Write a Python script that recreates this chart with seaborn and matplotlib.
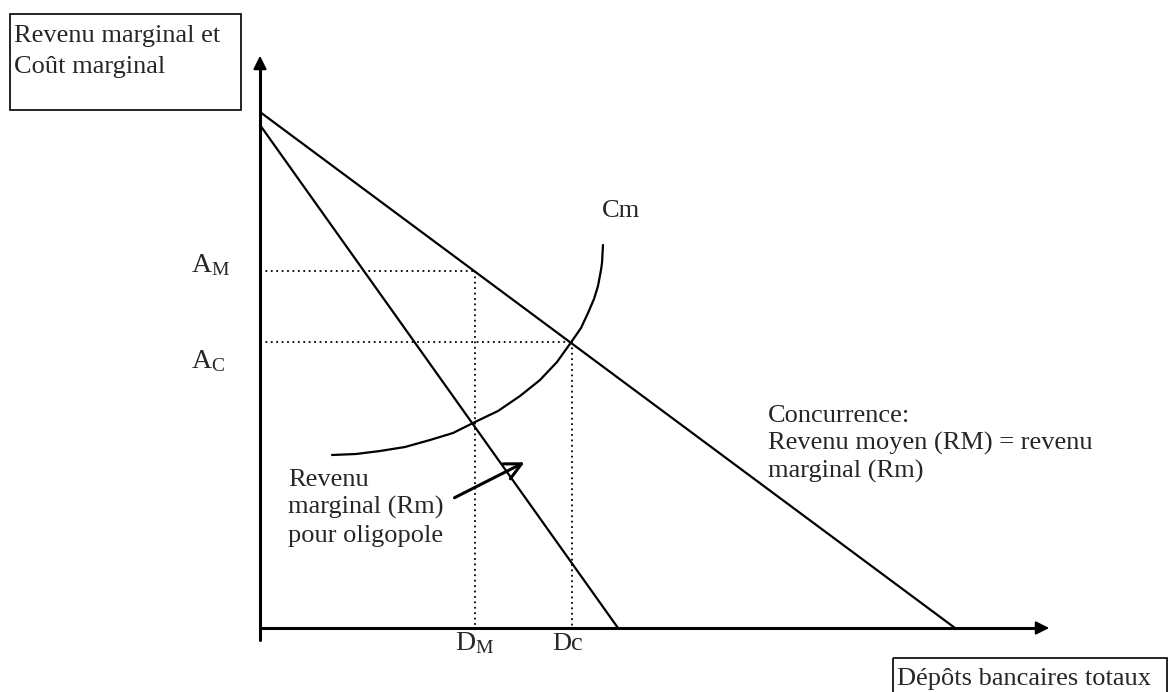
import numpy as np
import pandas as pd
import matplotlib
matplotlib.use("Agg")
import matplotlib.pyplot as plt
import seaborn as sns
from matplotlib.patches import Rectangle

# Style
sns.set_style("white")
plt.rcParams['font.family'] = ['Liberation Serif', 'DejaVu Serif']
plt.rcParams['mathtext.fontset'] = 'custom'
plt.rcParams['mathtext.rm'] = 'Liberation Serif'

# Coordinates (pixel grid, y downwards)
origin = (260, 628)
y_axis_top = 53
y_axis_bottom = 640
x_axis_end = 1052

# Concurrence: RM = Rm
comp_x = [260, 955]
comp_y = [112, 628]
# Revenu marginal oligopole
olig_x = [260, 618]
olig_y = [125, 628]
# Coût marginal (Cm)
cm_x = [332, 356, 380, 405, 430, 453, 475, 498, 520, 540, 557, 572, 581, 588, 594, 598, 601, 602, 603]
cm_y = [455, 454, 451, 447, 440, 433, 422, 411, 396, 380, 362, 341, 328, 313, 299, 286, 270, 263, 245]

# Prix / quantités d'équilibre
a_m, a_c = 271, 342
d_m, d_c = 475, 572

FS = 19

fig = plt.figure(figsize=(11.69, 6.92), dpi=100)
ax = fig.add_axes([0, 0, 1, 1])

# Courbes
courbes = pd.concat([
    pd.DataFrame({'x': comp_x, 'y': comp_y, 'courbe': 'RM'}),
    pd.DataFrame({'x': olig_x, 'y': olig_y, 'courbe': 'Rm'}),
    pd.DataFrame({'x': cm_x, 'y': cm_y, 'courbe': 'Cm'}),
])
sns.lineplot(data=courbes, x='x', y='y', units='courbe', estimator=None, sort=False,
             color='black', linewidth=1.6, ax=ax)
ax.set_xlim(0, 1169)
ax.set_ylim(692, 0)
ax.set_axis_off()

# Axes avec flèches
ax.plot([origin[0], origin[0]], [y_axis_bottom, y_axis_top + 8], color='black', lw=2.2)
ax.annotate('', xy=(origin[0], y_axis_top), xytext=(origin[0], y_axis_top + 12),
            arrowprops=dict(arrowstyle='-|>', color='black', lw=1.5, mutation_scale=20))
ax.plot([origin[0], x_axis_end - 8], [origin[1], origin[1]], color='black', lw=2.2)
ax.annotate('', xy=(x_axis_end, origin[1]), xytext=(x_axis_end - 12, origin[1]),
            arrowprops=dict(arrowstyle='-|>', color='black', lw=1.5, mutation_scale=20))

# Pointillés
dot = dict(color='black', lw=1.3, linestyle=(0, (1, 2)))
ax.plot([origin[0], d_m], [a_m, a_m], **dot)
ax.plot([d_m, d_m], [a_m, origin[1]], **dot)
ax.plot([origin[0], d_c], [a_c, a_c], **dot)
ax.plot([d_c, d_c], [a_c, origin[1]], **dot)

# Etiquettes
ax.text(191, 272, r'$\mathrm{A_M}$', fontsize=FS + 1, va='baseline', ha='left')
ax.text(191, 368, r'$\mathrm{A_C}$', fontsize=FS + 1, va='baseline', ha='left')
ax.text(455, 650, r'$\mathrm{D_M}$', fontsize=FS + 1, va='baseline', ha='left')
ax.text(552, 650, 'Dc', fontsize=FS, va='baseline', ha='left')
ax.text(602, 217, 'Cm', fontsize=FS, va='baseline', ha='left')

conc_lines = ['Concurrence:', 'Revenu moyen (RM) = revenu', 'marginal (Rm)']
for i, t in enumerate(conc_lines):
    ax.text(768, 422 + 27.6 * i, t, fontsize=FS, va='baseline', ha='left')

olig_lines = ['Revenu', 'marginal (Rm)', 'pour oligopole']
for i, t in enumerate(olig_lines):
    ax.text(288, 486 + 28 * i, t, fontsize=FS, va='baseline', ha='left')

ax.annotate('', xy=(527, 461), xytext=(452, 499),
            arrowprops=dict(arrowstyle='->', color='black', lw=2.2, mutation_scale=30))

# Boîtes des titres d'axes
ax.add_patch(Rectangle((10, 14), 231, 96, fill=False, edgecolor='black', lw=1.2))
for i, t in enumerate(['Revenu marginal et', 'Coût marginal']):
    ax.text(14, 42 + 31 * i, t, fontsize=FS, va='baseline', ha='left')

ax.add_patch(Rectangle((893, 658), 274, 60, fill=False, edgecolor='black', lw=1.2, clip_on=True))
ax.text(897, 685, 'Dépôts bancaires totaux', fontsize=FS, va='baseline', ha='left')

fig.savefig('out.png', dpi=100)
